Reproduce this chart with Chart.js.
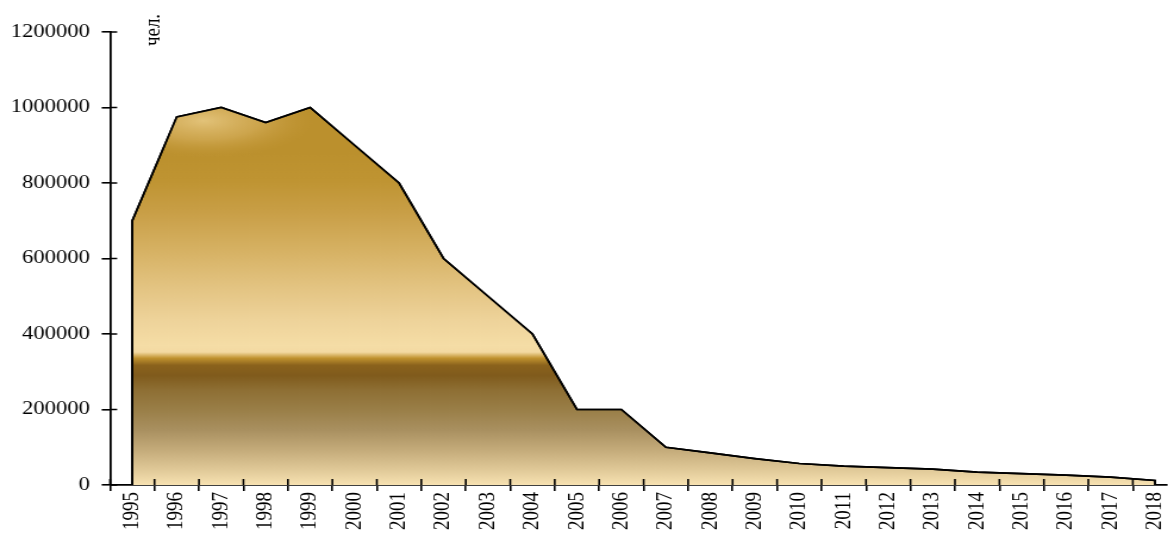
<!DOCTYPE html>
<html>
<head>
<meta charset="utf-8">
<script src="https://cdn.jsdelivr.net/npm/chart.js@4/dist/chart.umd.min.js"></script>
<style>
  html, body { margin: 0; padding: 0; background: #fff; overflow: hidden; }
  /* the original picture is stretched sideways, so we draw narrow and widen it */
  #wrap { width: 981px; height: 533px; transform: scaleX(1.1907); transform-origin: 0 0; }
</style>
</head>
<body>
<div id="wrap"><canvas id="chart"></canvas></div>
<script>
const years = [1995, 1996, 1997, 1998, 1999, 2000, 2001, 2002, 2003, 2004, 2005, 2006,
               2007, 2008, 2009, 2010, 2011, 2012, 2013, 2014, 2015, 2016, 2017, 2018];
const people = [700000, 975000, 1000000, 960000, 1000000, 900000, 800000, 600000, 500000, 400000, 200000, 200000,
                100000, 85000, 70000, 57000, 50000, 46000, 42000, 34000, 30000, 26000, 21000, 12000];
const yTicks = [0, 200000, 400000, 600000, 800000, 1000000, 1200000];
const unitLabel = "чел.";

const FONT = "'Liberation Serif', 'Times New Roman', serif";

// точки ряда + замыкание площади до нуля по краям
const points = years.map((yr, i) => ({ x: yr, y: people[i] }));
points.unshift({ x: years[0], y: 0 });
points.push({ x: years[years.length - 1], y: 0 });

// засечки между годами
const halfTicks = [];
for (let i = 0; i < years.length - 1; i++) halfTicks.push(years[i] + 0.5);
halfTicks.unshift(years[0] - 0.5);

// золотой градиент заливки
function goldFill(ctx) {
  const chart = ctx.chart;
  const y = chart.scales.y;
  if (!chart.chartArea || !y) return '#bb902d';
  const y0 = y.getPixelForValue(0);
  const y1 = y.getPixelForValue(1000000);
  const g = chart.ctx.createLinearGradient(0, y0, 0, y1);
  const stops = [
    [0.00, '#f7e2b2'], [0.04, '#e0c998'], [0.093, '#c4ab7a'], [0.146, '#a99060'],
    [0.198, '#9a7f48'], [0.251, '#8e6f34'], [0.29, '#805b1c'], [0.317, '#8a621c'],
    [0.336, '#c0922f'], [0.352, '#f3d9a2'], [0.37, '#f5dda6'], [0.437, '#eed39a'],
    [0.516, '#e4c584'], [0.622, '#d6b163'], [0.727, '#c89e45'], [0.807, '#bf9432'],
    [0.886, '#bb902d'], [1.00, '#bb902d']
  ];
  stops.forEach(([o, c]) => g.addColorStop(o, c));
  return g;
}

// светлый блик у вершины слева
const shine = {
  id: 'shine',
  afterDatasetsDraw(chart) {
    const { ctx } = chart;
    const pts = chart.getDatasetMeta(0).data;
    const x = chart.scales.x, y = chart.scales.y;
    const traceShape = () => {
      ctx.beginPath();
      pts.forEach((p, i) => i ? ctx.lineTo(p.x, p.y) : ctx.moveTo(p.x, p.y));
    };
    ctx.save();
    traceShape();
    ctx.closePath();
    ctx.clip();
    const cx = x.getPixelForValue(1996.6), cy = y.getPixelForValue(965000);
    const rx = 95, ry = 38;
    ctx.translate(cx, cy);
    ctx.scale(rx / ry, 1);
    const g = ctx.createRadialGradient(0, 0, 0, 0, 0, ry);
    g.addColorStop(0, 'rgba(236,207,140,0.8)');
    g.addColorStop(0.5, 'rgba(226,190,115,0.45)');
    g.addColorStop(1, 'rgba(200,155,60,0)');
    ctx.fillStyle = g;
    ctx.fillRect(-ry, -ry, 2 * ry, 2 * ry);
    ctx.restore();

    ctx.save();
    traceShape();
    ctx.strokeStyle = '#000';
    ctx.lineWidth = 1.7;
    ctx.lineJoin = 'miter';
    ctx.stroke();
    ctx.restore();
  }
};

// внутренняя часть засечек (засечки пересекают оси) и подпись единиц
const extras = {
  id: 'extras',
  afterDraw(chart) {
    const { ctx, chartArea, scales } = chart;
    ctx.save();
    ctx.strokeStyle = '#000';
    ctx.lineWidth = 1.6;
    ctx.beginPath();
    halfTicks.forEach(v => {
      const px = scales.x.getPixelForValue(v);
      ctx.moveTo(px, chartArea.bottom);
      ctx.lineTo(px, chartArea.bottom - 6);
    });
    yTicks.forEach(v => {
      const py = scales.y.getPixelForValue(v);
      ctx.moveTo(chartArea.left, py);
      ctx.lineTo(chartArea.left + 6, py);
    });
    ctx.stroke();

    ctx.translate(chartArea.left + 37, 30);
    ctx.rotate(-Math.PI / 2);
    ctx.fillStyle = '#000';
    ctx.font = '19px ' + FONT;
    ctx.textAlign = 'center';
    ctx.textBaseline = 'middle';
    ctx.fillText(unitLabel, 0, 0);
    ctx.restore();
  }
};

new Chart(document.getElementById('chart'), {
  type: 'line',
  data: {
    datasets: [{
      data: points,
      borderColor: '#000',
      borderWidth: 1.7,
      backgroundColor: goldFill,
      fill: 'origin',
      pointRadius: 0,
      tension: 0
    }]
  },
  options: {
    responsive: true,
    maintainAspectRatio: false,
    animation: false,
    layout: { padding: { top: 32, right: 0, left: 0, bottom: 0 } },
    plugins: { legend: { display: false }, tooltip: { enabled: false } },
    scales: {
      x: {
        type: 'linear',
        min: years[0] - 0.5,
        max: 2018.27,
        z: 1,
        afterBuildTicks: (axis) => {
          const t = [];
          halfTicks.forEach(v => t.push({ value: v }));
          years.forEach(v => t.push({ value: v }));
          t.sort((a, b) => a.value - b.value);
          axis.ticks = t;
        },
        afterFit: (axis) => {
          axis.height = 48;
          axis.paddingLeft = 0;
          axis.paddingRight = 0;
        },
        border: { display: true, color: '#000', width: 1.8 },
        grid: {
          drawOnChartArea: false,
          drawTicks: true,
          tickLength: 6,
          lineWidth: 1.6,
          color: (c) => (c.tick && Number.isInteger(c.tick.value)) ? 'rgba(0,0,0,0)' : '#000'
        },
        ticks: {
          autoSkip: false,
          minRotation: 90,
          maxRotation: 90,
          padding: 1,
          color: '#000',
          font: { family: FONT, size: 19 },
          callback: (v) => Number.isInteger(v) ? String(v) : ''
        }
      },
      y: {
        min: 0,
        max: 1200000,
        z: 1,
        afterBuildTicks: (axis) => { axis.ticks = yTicks.map(v => ({ value: v })); },
        afterFit: (axis) => { axis.width = 92.4; },
        border: { display: true, color: '#000', width: 1.8 },
        grid: {
          drawOnChartArea: false,
          drawTicks: true,
          tickLength: 7,
          lineWidth: 1.6,
          color: '#000'
        },
        ticks: {
          padding: 10,
          color: '#000',
          font: { family: FONT, size: 19 },
          callback: (v) => String(v)
        }
      }
    }
  },
  plugins: [shine, extras]
});
</script>
</body>
</html>
